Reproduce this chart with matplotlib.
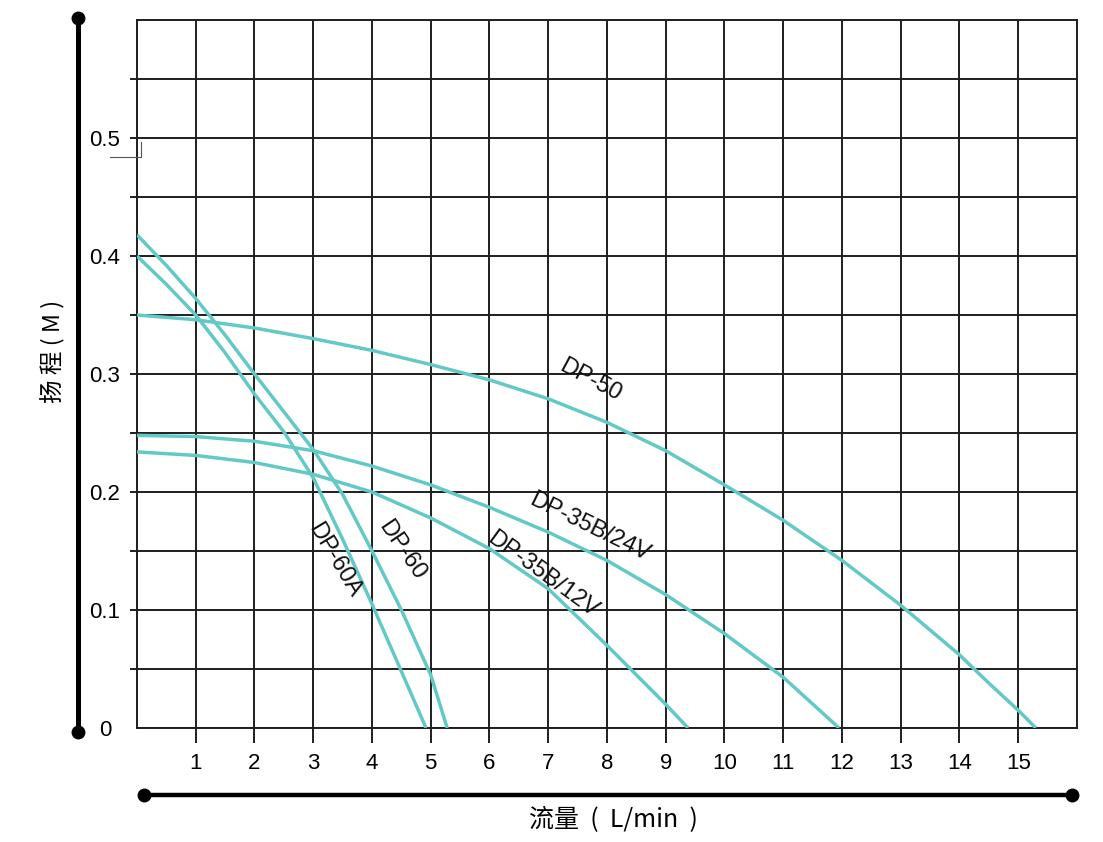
import numpy as np
import matplotlib
matplotlib.use("Agg")
import matplotlib.pyplot as plt
from matplotlib.lines import Line2D

# Pump curves (flow L/min, head m)
dp50_flow = [0, 1, 2, 3, 4, 5, 6, 7, 8, 9, 10, 11, 12, 13, 14, 14.5, 15, 15.3]
dp50_head = [0.350, 0.346, 0.339, 0.330, 0.320, 0.308, 0.295, 0.279, 0.259, 0.235,
             0.206, 0.176, 0.142, 0.104, 0.062, 0.038, 0.015, 0.0]

dp35b24_flow = [0, 1, 2, 3, 4, 5, 6, 7, 8, 9, 10, 11, 11.95]
dp35b24_head = [0.248, 0.247, 0.243, 0.235, 0.222, 0.206, 0.187, 0.166, 0.142, 0.113,
                0.080, 0.043, 0.0]

dp35b12_flow = [0, 1, 2, 3, 4, 5, 6, 7, 8, 9, 9.38]
dp35b12_head = [0.234, 0.231, 0.225, 0.215, 0.200, 0.178, 0.152, 0.118, 0.070, 0.020, 0.0]

dp60a_flow = [0, 0.5, 1, 1.5, 2, 2.5, 3, 3.5, 4, 4.5, 4.92]
dp60a_head = [0.400, 0.376, 0.350, 0.318, 0.283, 0.251, 0.212, 0.160, 0.105, 0.048, 0.0]

dp60_flow = [0, 0.5, 1, 1.5, 2, 2.5, 3, 3.5, 4, 4.5, 5, 5.28]
dp60_head = [0.418, 0.392, 0.364, 0.333, 0.300, 0.268, 0.236, 0.198, 0.150, 0.100, 0.045, 0.0]

x_ticks = list(range(1, 16))
y_label_vals = [0, 0.1, 0.2, 0.3, 0.4, 0.5]
y_label_text = ["0", "0.1", "0.2", "0.3", "0.4", "0.5"]

# curve name labels: (text, x, y, angle)
curve_labels = [
    ("DP-50", 7.71, 0.295, -28),
    ("DP-35B/24V", 7.71, 0.170, -26),
    ("DP-35B/12V", 6.91, 0.130, -36),
    ("DP-60A", 3.37, 0.142, -59),
    ("DP-60", 4.51, 0.151, -56),
]

teal = "#62c9c7"
ink = "#1e1e1e"
num_font = "Liberation Sans"
cjk = ["Noto Sans CJK SC", "DejaVu Sans"]

fig = plt.figure(figsize=(11.03, 8.42), dpi=100)
ax = fig.add_axes([0.1242, 0.1354, 0.8522, 0.8408])

for fx, hy in [(dp50_flow, dp50_head), (dp35b24_flow, dp35b24_head),
               (dp35b12_flow, dp35b12_head), (dp60a_flow, dp60a_head),
               (dp60_flow, dp60_head)]:
    ax.plot(fx, hy, color=teal, lw=2.5, solid_capstyle="butt", zorder=3)

ax.set_xlim(0, 16)
ax.set_ylim(0, 0.6)

ax.set_xticks(x_ticks)
ax.set_xticklabels([str(v) for v in x_ticks], fontsize=16, family=num_font)
ax.tick_params(axis="x", length=11, width=1.4, color=ink, pad=7)

y_ticks = np.round(np.arange(0, 0.6, 0.05), 2)
ax.set_yticks(y_ticks)
ax.set_yticklabels([y_label_text[y_label_vals.index(v)] if v in y_label_vals else ""
                    for v in y_ticks], fontsize=16, family=num_font)
ax.tick_params(axis="y", length=5, width=1.4, color=ink, pad=18)
for lab in ax.get_yticklabels():
    lab.set_horizontalalignment("center")
ax.yaxis.get_major_ticks()[0].tick1line.set_visible(False)

ax.grid(True, color=ink, lw=1.4)
for s in ax.spines.values():
    s.set_color(ink)
    s.set_linewidth(1.4)

for txt, lx, ly, ang in curve_labels:
    ax.text(lx, ly, txt, rotation=ang, rotation_mode="anchor", ha="center",
            va="center", fontsize=17, family=num_font, color="#111111", zorder=4)

# thick axis bars with round dots at the ends
fig.add_artist(Line2D([0.0707, 0.0707], [0.1306, 0.9786], color="black", lw=3.6,
                      marker="o", markersize=9, transform=fig.transFigure))
fig.add_artist(Line2D([0.1310, 0.9720], [0.0558, 0.0558], color="black", lw=3.2,
                      marker="o", markersize=9, transform=fig.transFigure))
# small bracket stroke beside the 0.5 label, as in the scan
fig.add_artist(Line2D([0.0997, 0.1278, 0.1278], [0.8135, 0.8135, 0.8314],
                      color="#555555", lw=0.8, transform=fig.transFigure))

fig.text(0.048, 0.583, "扬 程 ( M )", rotation=90, ha="center", va="center",
         fontsize=17, family=cjk)
fig.text(0.556, 0.026, "流量  (  L/min  )", ha="center", va="center",
         fontsize=18, family=cjk)

fig.savefig("out.png", dpi=100)
